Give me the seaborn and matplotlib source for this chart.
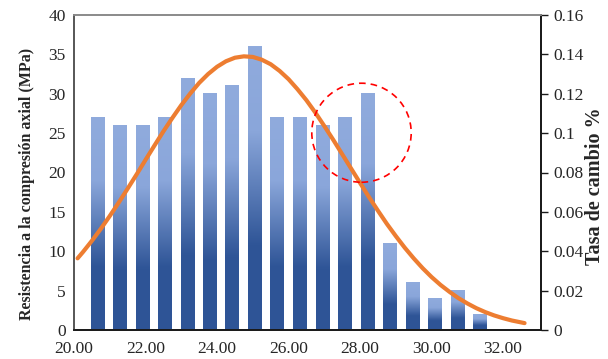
import numpy as np
import pandas as pd
import matplotlib
matplotlib.use("Agg")
import matplotlib.pyplot as plt
from matplotlib.colors import LinearSegmentedColormap
from matplotlib.patches import Ellipse
from matplotlib.ticker import FuncFormatter, MultipleLocator
import seaborn as sns

# ---- data ----
bar_x = [20.65, 21.28, 21.91, 22.54, 23.17, 23.79, 24.42, 25.05, 25.68,
         26.31, 26.94, 27.57, 28.20, 28.83, 29.46, 30.09, 30.72, 31.35]
bar_y = [27, 26, 26, 27, 32, 30, 31, 36, 27, 27, 26, 27, 30, 11, 6, 4, 5, 2]

curve_x = [20.1, 20.25, 20.5, 20.75, 21.0, 21.25, 21.5, 21.75, 22.0, 22.25,
           22.5, 22.75, 23.0, 23.25, 23.5, 23.75, 24.0, 24.25, 24.5, 24.75,
           25.0, 25.25, 25.5, 25.75, 26.0, 26.25, 26.5, 26.75, 27.0, 27.25,
           27.5, 27.75, 28.0, 28.25, 28.5, 28.75, 29.0, 29.25, 29.5, 29.75,
           30.0, 30.25, 30.5, 30.75, 31.0, 31.25, 31.5, 31.75, 32.0, 32.25,
           32.6]
curve_y = [0.0364, 0.0396, 0.0453, 0.0514, 0.0579, 0.0647, 0.0718, 0.0790,
           0.0864, 0.0937, 0.1009, 0.1077, 0.1142, 0.1201, 0.1255, 0.1300,
           0.1337, 0.1365, 0.1383, 0.1390, 0.1387, 0.1373, 0.1350, 0.1316,
           0.1274, 0.1223, 0.1167, 0.1104, 0.1036, 0.0966, 0.0893, 0.0820,
           0.0747, 0.0675, 0.0606, 0.0539, 0.0477, 0.0418, 0.0364, 0.0314,
           0.0269, 0.0229, 0.0194, 0.0162, 0.0135, 0.0111, 0.0091, 0.0074,
           0.0060, 0.0048, 0.0035]

x_ticks = [20, 22, 24, 26, 28, 30, 32]
y_label = "Resistencia a la compresión axial (MPa)"
y2_label = "Tasa de cambio %"

# ---- style ----
sns.set_style("white")
plt.rcParams["font.family"] = ["Liberation Serif", "DejaVu Serif"]

fig = plt.figure(figsize=(6.08, 3.59), dpi=100)
ax = fig.add_axes([74 / 608, 29 / 359, (541 - 74) / 608, (330 - 15) / 359])

df_bar = pd.DataFrame({"x": bar_x, "y": bar_y})
sns.barplot(data=df_bar, x="x", y="y", native_scale=True, width=0.6,
            color="#4472C4", ax=ax, zorder=2)

# gradient fill for each bar
cmap = LinearSegmentedColormap.from_list(
    "barg", [(0.0, "#90ABDD"), (0.3, "#8AA6DA"), (0.7, "#2F5597"), (1.0, "#2E5496")])
grad = np.linspace(0, 1, 256).reshape(-1, 1)
for p in list(ax.patches):
    x0 = p.get_x()
    w = p.get_width()
    h = p.get_height()
    ax.imshow(grad, extent=[x0, x0 + w, 0, h], aspect="auto", cmap=cmap,
              origin="upper", zorder=2, interpolation="bilinear")
    p.set_visible(False)

ax.set_xlim(20, 33.06)
ax.set_ylim(0, 40)
ax.set_xticks(x_ticks)
ax.xaxis.set_major_formatter(FuncFormatter(lambda v, _: f"{v:.2f}"))
ax.yaxis.set_major_locator(MultipleLocator(5))
ax.tick_params(axis="both", length=0, labelsize=12.5, colors="#262626")
ax.tick_params(axis="x", pad=8)
ax.tick_params(axis="y", pad=6)
ax.set_xlabel("")
ax.set_ylabel(y_label, fontsize=11.5, fontweight="bold")
ax.yaxis.label.set_va("center")
ax.yaxis.set_label_coords(-0.1006, 0.465)

ax2 = ax.twinx()
df_curve = pd.DataFrame({"x": curve_x, "y": curve_y})
sns.lineplot(data=df_curve, x="x", y="y", ax=ax2, color="#ED7D31",
             linewidth=3.0, solid_capstyle="round", solid_joinstyle="round")
ax2.set_ylim(0, 0.16)
ax2.set_xlim(20, 33.06)
ax2.set_xlabel("")
ax2.yaxis.set_major_locator(MultipleLocator(0.02))
ax2.yaxis.set_major_formatter(FuncFormatter(
    lambda v, _: f"{v:.2f}".rstrip("0").rstrip(".") if abs(v) > 1e-9 else "0"))
ax2.tick_params(axis="y", length=5, width=1, direction="out", labelsize=12.5,
                colors="#262626", pad=4)
ax2.set_ylabel(y2_label, fontsize=14.5, fontweight="bold")
ax2.yaxis.label.set_va("center")
ax2.yaxis.set_label_coords(1.1156, 0.457)

circle = Ellipse((28.04, 0.1002), width=2.78, height=0.0503, fill=False,
                 edgecolor="#FF0000", linewidth=1.2, linestyle=(0, (4, 3)), zorder=5)
ax2.add_patch(circle)

for a in (ax, ax2):
    a.spines["left"].set_color("#595959")
    a.spines["top"].set_color("#8C8C8C")
    a.spines["bottom"].set_color("#1A1A1A")
    a.spines["right"].set_color("#1A1A1A")
    for s in a.spines.values():
        s.set_linewidth(1.3)
        s.set_visible(True)
ax2.tick_params(axis="y", color="#1A1A1A")

fig.savefig("out.png", dpi=100)
